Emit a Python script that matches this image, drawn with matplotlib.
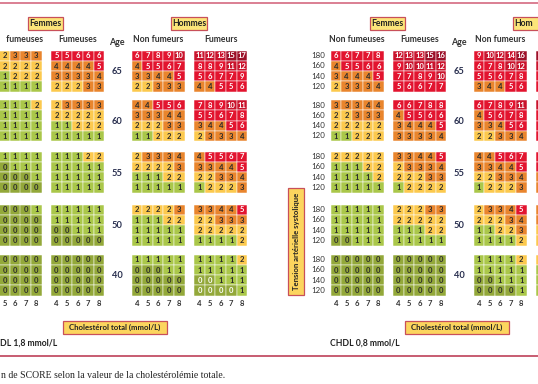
import matplotlib
matplotlib.use("Agg")
import matplotlib.pyplot as plt
from matplotlib.patches import Rectangle

plt.rcParams['font.family'] = ['Lato', 'DejaVu Sans']

ages = [65, 60, 55, 50, 40]
sbp = [180, 160, 140, 120]
chol = [4, 5, 6, 7, 8]

# CHDL 1,8 mmol/L  (left chart) -- women non smokers: only columns 5..8 are in the picture
hdl18_f_ns = [
    [[2, 3, 3, 3], [2, 2, 2, 2], [1, 2, 2, 2], [1, 1, 1, 1]],
    [[1, 1, 1, 2], [1, 1, 1, 1], [1, 1, 1, 1], [1, 1, 1, 1]],
    [[1, 1, 1, 1], [0, 1, 1, 1], [0, 0, 0, 1], [0, 0, 0, 0]],
    [[0, 0, 0, 1], [0, 0, 0, 0], [0, 0, 0, 0], [0, 0, 0, 0]],
    [[0, 0, 0, 0], [0, 0, 0, 0], [0, 0, 0, 0], [0, 0, 0, 0]],
]
hdl18_f_s = [
    [[5, 5, 6, 6, 6], [4, 4, 4, 4, 5], [3, 3, 3, 3, 4], [2, 2, 2, 3, 3]],
    [[2, 3, 3, 3, 3], [2, 2, 2, 2, 2], [1, 1, 2, 2, 2], [1, 1, 1, 1, 1]],
    [[1, 1, 1, 2, 2], [1, 1, 1, 1, 1], [1, 1, 1, 1, 1], [1, 1, 1, 1, 1]],
    [[1, 1, 1, 1, 1], [1, 1, 1, 1, 1], [0, 0, 1, 1, 1], [0, 0, 0, 0, 0]],
    [[0, 0, 0, 0, 0], [0, 0, 0, 0, 0], [0, 0, 0, 0, 0], [0, 0, 0, 0, 0]],
]
hdl18_m_ns = [
    [[6, 7, 8, 9, 10], [4, 5, 5, 6, 7], [3, 3, 4, 4, 5], [2, 2, 3, 3, 3]],
    [[4, 4, 5, 5, 6], [3, 3, 3, 4, 4], [2, 2, 2, 3, 3], [1, 1, 2, 2, 2]],
    [[2, 3, 3, 3, 4], [2, 2, 2, 2, 3], [1, 1, 1, 2, 2], [1, 1, 1, 1, 1]],
    [[2, 2, 2, 2, 3], [1, 1, 1, 2, 2], [1, 1, 1, 1, 1], [1, 1, 1, 1, 1]],
    [[1, 1, 1, 1, 1], [0, 0, 0, 1, 1], [0, 0, 0, 0, 0], [0, 0, 0, 0, 0]],
]
hdl18_m_s = [
    [[11, 12, 13, 15, 17], [8, 8, 9, 11, 12], [5, 6, 7, 7, 9], [4, 4, 5, 5, 6]],
    [[7, 8, 9, 10, 11], [5, 5, 6, 7, 8], [3, 4, 4, 5, 6], [2, 3, 3, 3, 4]],
    [[4, 5, 5, 6, 7], [3, 3, 4, 4, 5], [2, 2, 3, 3, 4], [1, 2, 2, 2, 3]],
    [[3, 3, 4, 4, 5], [2, 2, 3, 3, 3], [2, 2, 2, 2, 2], [1, 1, 1, 1, 2]],
    [[1, 1, 1, 1, 2], [1, 1, 1, 1, 1], [0, 0, 1, 1, 1], [0, 0, 0, 0, 1]],
]

# CHDL 0,8 mmol/L  (right chart) -- men smokers: only the first column is in the picture
hdl08_f_ns = [
    [[6, 6, 7, 7, 8], [4, 5, 5, 6, 6], [3, 4, 4, 4, 5], [2, 3, 3, 3, 4]],
    [[3, 3, 3, 4, 4], [2, 2, 3, 3, 3], [2, 2, 2, 2, 2], [1, 1, 2, 2, 2]],
    [[2, 2, 2, 2, 2], [1, 1, 1, 2, 2], [1, 1, 1, 1, 2], [1, 1, 1, 1, 1]],
    [[1, 1, 1, 1, 1], [1, 1, 1, 1, 1], [1, 1, 1, 1, 1], [0, 0, 1, 1, 1]],
    [[0, 0, 0, 0, 0], [0, 0, 0, 0, 0], [0, 0, 0, 0, 0], [0, 0, 0, 0, 0]],
]
hdl08_f_s = [
    [[12, 13, 13, 15, 16], [9, 10, 10, 11, 12], [7, 7, 8, 9, 10], [5, 6, 6, 7, 7]],
    [[6, 6, 7, 8, 8], [4, 5, 5, 6, 6], [3, 4, 4, 4, 5], [3, 3, 3, 3, 4]],
    [[3, 3, 4, 4, 5], [2, 3, 3, 3, 4], [2, 2, 2, 3, 3], [1, 2, 2, 2, 2]],
    [[2, 2, 2, 3, 3], [2, 2, 2, 2, 2], [1, 1, 1, 2, 2], [1, 1, 1, 1, 1]],
    [[0, 0, 0, 0, 0], [0, 0, 0, 0, 0], [0, 0, 0, 0, 0], [0, 0, 0, 0, 0]],
]
hdl08_m_ns = [
    [[9, 10, 12, 14, 16], [6, 7, 8, 10, 12], [5, 5, 6, 7, 8], [3, 4, 4, 5, 6]],
    [[6, 7, 8, 9, 11], [4, 5, 6, 7, 8], [3, 3, 4, 5, 6], [2, 2, 3, 3, 4]],
    [[4, 4, 5, 6, 7], [3, 3, 4, 4, 5], [2, 2, 3, 3, 4], [1, 2, 2, 2, 3]],
    [[2, 3, 3, 4, 5], [2, 2, 2, 3, 4], [1, 1, 2, 2, 3], [1, 1, 1, 1, 2]],
    [[1, 1, 1, 1, 2], [1, 1, 1, 1, 1], [0, 0, 1, 1, 1], [0, 0, 0, 0, 1]],
]
hdl08_m_s = [
    [[17], [13], [9], [7]],
    [[11], [8], [6], [5]],
    [[7], [5], [4], [3]],
    [[4], [3], [2], [2]],
    [[2], [1], [1], [1]],
]


def risk_colour(v):
    if v < 1:
        return '#93a83a'
    if v < 2:
        return '#aac74a'
    if v < 3:
        return '#fcc94e'
    if v < 5:
        return '#e9852d'
    if v < 10:
        return '#e2142f'
    if v < 15:
        return '#c9132c'
    return '#9c1028'


W = 538
CW, CH = 10.6, 10.25
grid_top = [50.5, 100, 151.5, 204.5, 254.5]   # y of each age block
panel_x = [-11.3, 51.2, 131.6, 194.2]        # x of the 4 blocks inside one chart
LABEL_COL = '#333333'

fig = plt.figure(figsize=(5.38, 3.84), dpi=100)
ax = fig.add_axes([0, 0, 1, 1])
ax.set_xlim(0, W)
ax.set_ylim(384, 0)
ax.axis('off')
rend = fig.canvas.get_renderer()


def put(x, y, s, ha='center', **kw):
    # the reference is a crop: keep only the part of a text that is inside the picture
    t = ax.text(x, y, s, ha=ha, va='center', **kw)
    bb = t.get_window_extent(rend)
    if bb.x1 <= 0.5 or bb.x0 >= W - 0.5:
        t.remove()
        return
    if bb.x0 < 0:
        t.set_ha('right')
        t.set_x(bb.x1)
        while t.get_window_extent(rend).x0 < 0 and len(s) > 1:
            s = s[1:]
            t.set_text(s)
    elif bb.x1 > W:
        t.set_ha('left')
        t.set_x(bb.x0)
        while t.get_window_extent(rend).x1 > W and len(s) > 1:
            s = s[:-1]
            t.set_text(s)


def draw_panel(x0, grids, first_col=0, white_zero=False):
    for a, grid in enumerate(grids):
        y0 = grid_top[a]
        for r, row in enumerate(grid):
            for k, v in enumerate(row):
                c = first_col + k
                x = x0 + c * CW
                y = y0 + r * CH
                ax.add_patch(Rectangle((x, y), CW, CH, facecolor=risk_colour(v),
                                       edgecolor='#ffffff', linewidth=0.35))
                tc = 'white' if (v >= 5 or (white_zero and v == 0)) else '#2b2b2b'
                put(x + CW / 2, y + CH / 2 + 0.3, str(v), fontsize=5.5, color=tc,
                    fontweight='bold')
    for c, t in enumerate(chol):
        put(x0 + (c + 0.5) * CW, 303.5, str(t), fontsize=5.5, color=LABEL_COL,
            fontweight='bold')


def boxed(x, y, s, w, h, fc, rot=0, fs=6.2):
    if x + w / 2 <= 0:
        return
    ax.add_patch(Rectangle((x - w / 2, y - h / 2), w, h, facecolor=fc,
                           edgecolor='#c8505a', linewidth=0.9))
    if rot:
        ax.text(x, y, s, ha='center', va='center', fontsize=fs, rotation=rot,
                color='#222222', fontweight='bold')
    else:
        put(x, y, s, fontsize=fs, color='#222222', fontweight='bold')


def draw_chart(ox, panels, chdl):
    heads = ['Non fumeuses', 'Fumeuses', 'Non fumeurs', 'Fumeurs']
    for i, (grids, fc, wz) in enumerate(panels):
        draw_panel(ox + panel_x[i], grids, fc, wz)
        put(ox + panel_x[i] + 2.5 * CW, 39, heads[i], fontsize=6.2, color=LABEL_COL,
            fontweight='bold')
    boxed(ox + 45.5, 23.5, 'Femmes', 35, 13, '#fce57a')
    boxed(ox + 189, 23.5, 'Hommes', 36, 13, '#fce57a')
    put(ox + 117, 42.5, 'Age', fontsize=6.4, color=LABEL_COL, fontweight='bold')
    for a, age in enumerate(ages):
        put(ox + 117, grid_top[a] + 2 * CH + 1, str(age), fontsize=6.7,
            color='#2a3050', fontweight='bold')
        for r, p in enumerate(sbp):
            put(ox - 24, grid_top[a] + (r + 0.5) * CH, str(p), fontsize=5.7,
                color=LABEL_COL)
    boxed(ox - 46, 241.5, 'Tension artérielle systolique', 16, 107, '#fcd55e',
          rot=90, fs=5.6)
    boxed(ox + 115, 327, 'Cholestérol total (mmol/L)', 104, 13, '#fcd55e', fs=5.6)
    put(ox - 12, 343, chdl, ha='left', fontsize=6.2, color='#222222',
        fontweight='bold')


draw_chart(0, [(hdl18_f_ns, 1, False), (hdl18_f_s, 0, False),
               (hdl18_m_ns, 0, False), (hdl18_m_s, 0, True)], 'CHDL 1,8 mmol/L')
draw_chart(342, [(hdl08_f_ns, 0, False), (hdl08_f_s, 0, False),
                 (hdl08_m_ns, 0, False), (hdl08_m_s, 0, False)], 'CHDL 0,8 mmol/L')

ax.plot([0, W], [3, 3], color='#d46a80', linewidth=1.2)
ax.plot([0, W], [356, 356], color='#b8304a', linewidth=1.1)
put(1, 376, 'n de SCORE selon la valeur de la cholestérolémie totale.', ha='left',
    fontsize=7, color='#222222', family='Liberation Serif')

fig.savefig('out.png', dpi=100)
